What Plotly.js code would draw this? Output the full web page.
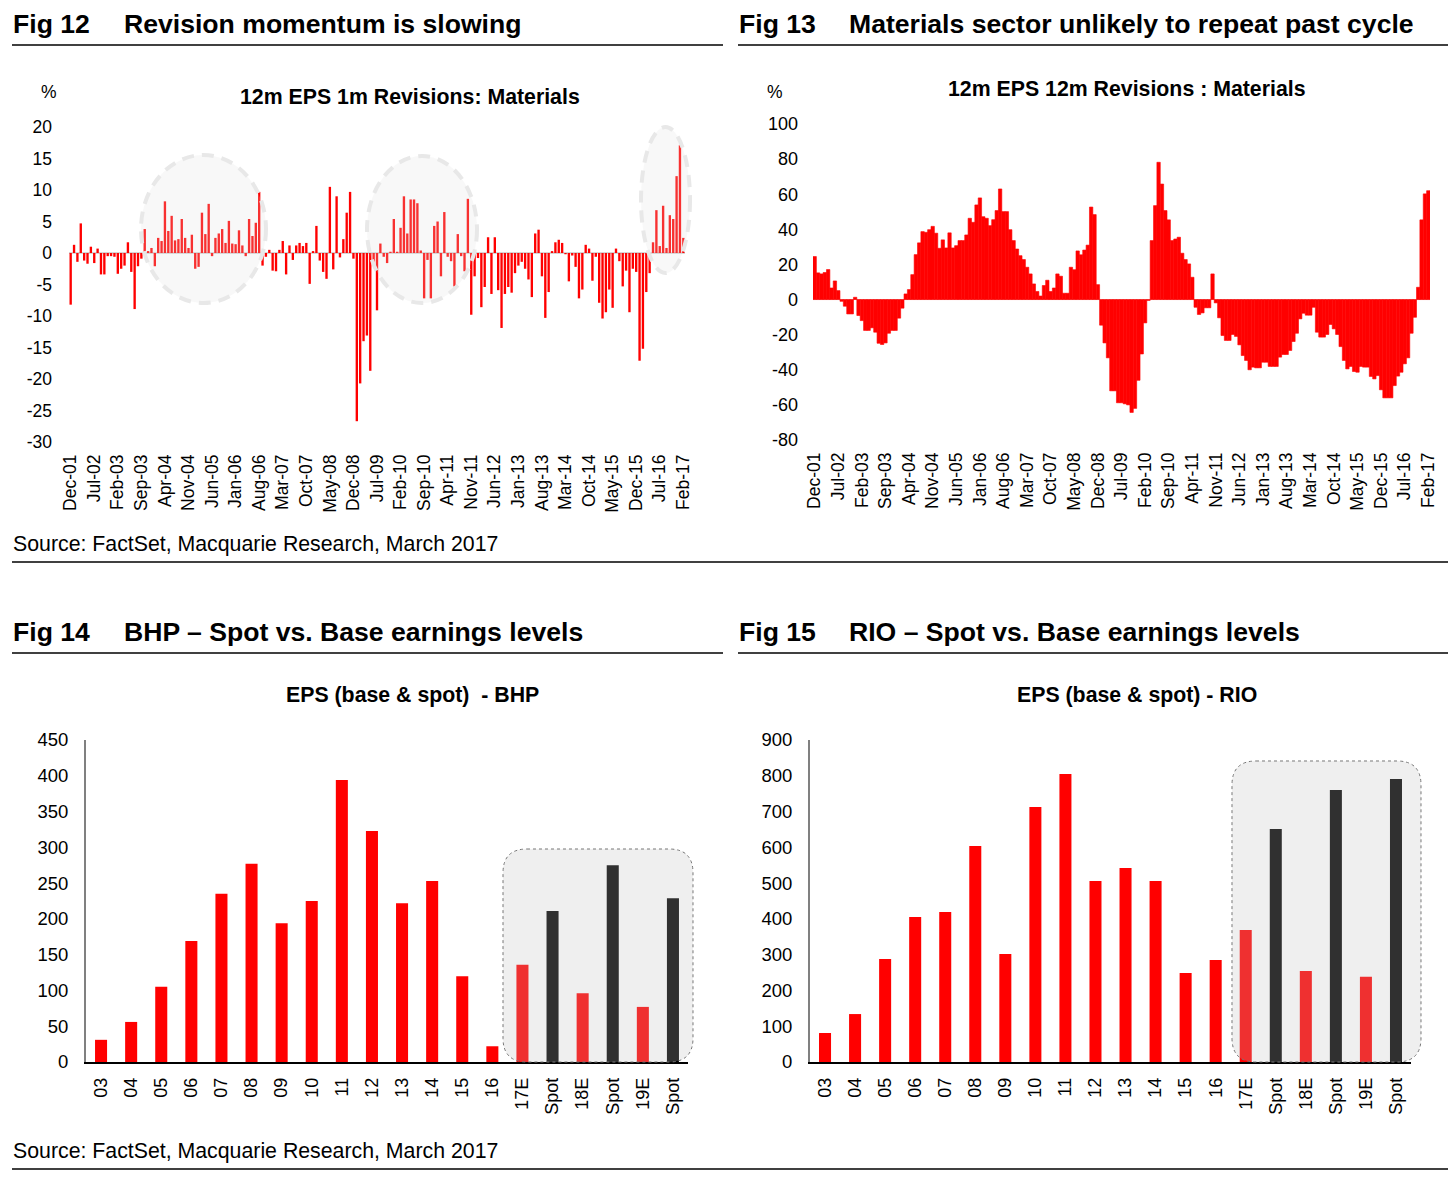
<!DOCTYPE html>
<html>
<head>
<meta charset="utf-8">
<script src="https://cdn.plot.ly/plotly-3.0.1.min.js"></script>
<style>html,body{margin:0;padding:0;background:#fff;}#chart{width:1456px;height:1192px;}</style>
</head>
<body>
<div id="chart"></div>
<script>
// ---------- DATA ----------
const monthNames = ["Jan","Feb","Mar","Apr","May","Jun","Jul","Aug","Sep","Oct","Nov","Dec"];
const startYear = 2001, startMonth = 11, nMonths = 183; // Dec-01 .. Feb-17
const tickEvery = 7;

// Fig 12: 12m EPS 1m revisions, Materials (%)
const rev1m = [
 -8.2, 1.3, -1.4, 4.7, -1.2, -1.7, 1.0, -1.6, 0.7, -3.4,
 -3.4, -0.5, -0.5, -0.6, -3.3, -2.5, -2.0, 1.7, -3.0, -8.9,
 -2.1, -0.9, 3.8, 0.3, 0.8, -2.1, 2.4, 1.9, 8.2, 3.5,
 5.9, 2.0, 2.2, 5.4, 2.4, 0.8, 2.9, -2.5, -2.2, 6.4,
 3.0, 7.8, -0.5, 2.4, 3.1, 3.8, 1.6, 5.1, 1.5, 1.4,
 3.6, 1.2, -0.5, 5.4, 2.7, 4.8, 9.7, -2.0, -0.6, 0.5,
 -2.8, -2.9, 0.5, 1.9, -3.4, 1.2, -1.1, 1.2, 1.6, 1.1,
 1.6, -4.9, 0.3, 4.3, -1.2, -3.0, -4.1, 10.5, -2.6, 9.0,
 -0.7, 2.2, 6.4, 9.7, -0.9, -26.7, -20.7, -14.0, -13.1, -18.7,
 -1.4, -9.1, 1.5, -0.6, -1.6, 0.2, 5.4, 0.2, 4.0, 9.0,
 3.1, 8.5, 8.5, 7.9, 0.4, -7.2, -1.1, -7.2, 4.3, 5.0,
 -3.7, 6.5, -0.6, -1.3, -5.3, 3.0, -0.5, -2.9, 8.6, -9.8,
 -3.7, -0.8, -8.6, -5.4, 2.5, -6.5, 2.5, -5.9, -11.9, -6.5,
 -5.4, -6.3, -3.2, -2.0, -1.4, -2.5, -4.2, -7.0, 3.1, 3.7,
 -3.7, -10.3, -6.2, 0.3, 1.7, 2.1, 1.6, -0.2, -4.5, -0.4,
 -2.2, -7.2, -5.8, 1.3, 0.7, -4.4, -0.6, -7.9, -10.4, -9.4,
 -5.8, -8.7, 0.7, -1.3, -5.3, -2.8, -9.4, -2.5, -3.0, -17.1,
 -15.2, -6.2, -3.2, 1.7, 6.8, 1.1, 7.5, 0.8, 6.0, 5.4,
 12.2, 17.1, 2.4
];

// Fig 13: 12m EPS 12m revisions, Materials (%)
const rev12m = [
 24.5, 15.2, 14.6, 15.4, 17.1, 6.6, 10.6, 5.1, -1.0, -3.8,
 -8.2, -8.2, 1.3, -9.1, -12.0, -17.6, -17.6, -16.1, -18.6, -24.9,
 -25.6, -24.7, -19.2, -17.6, -17.6, -10.6, -4.9, 3.2, 5.7, 14.2,
 25.6, 32.3, 38.7, 38.3, 39.8, 41.7, 37.8, 29.2, 34.0, 29.4,
 38.0, 29.4, 30.7, 33.6, 33.6, 36.8, 46.3, 44.0, 53.9, 57.9,
 47.2, 46.3, 42.1, 45.5, 50.7, 63.0, 50.1, 50.1, 39.8, 33.6,
 28.8, 25.0, 22.8, 18.4, 14.6, 8.9, 4.6, 2.0, 8.0, 11.0,
 4.6, 6.6, 14.6, 13.3, 3.6, 3.6, 18.4, 17.0, 27.7, 25.5,
 28.2, 31.0, 52.7, 48.4, 8.5, -14.6, -24.7, -33.2, -52.0, -52.0,
 -58.8, -58.8, -59.4, -60.0, -64.3, -62.0, -46.0, -31.0, -13.3, -0.5,
 33.6, 53.5, 78.2, 65.8, 50.7, 45.4, 33.6, 34.5, 35.5, 26.4,
 22.8, 20.3, 12.7, -4.4, -8.5, -7.6, -4.7, -4.7, 14.6, -1.9,
 -10.4, -20.5, -23.3, -23.3, -19.9, -21.0, -25.8, -31.9, -34.7, -40.0,
 -38.5, -38.9, -38.9, -35.7, -35.7, -38.1, -38.1, -38.1, -32.8, -31.3,
 -31.3, -29.0, -23.9, -19.2, -11.0, -7.8, -8.9, -8.9, -4.4, -18.6,
 -21.4, -21.4, -19.9, -14.2, -16.7, -19.9, -26.8, -34.7, -39.5, -38.1,
 -41.0, -41.4, -38.1, -38.5, -38.5, -43.8, -45.2, -43.3, -51.4, -56.0,
 -56.0, -56.0, -49.0, -43.6, -41.4, -36.6, -33.2, -19.2, -10.1, 7.0,
 45.4, 60.2, 62.0
];

// y-axis tick values
const fig12Ticks = [20, 15, 10, 5, 0, -5, -10, -15, -20, -25, -30];
const fig13Ticks = [100, 80, 60, 40, 20, 0, -20, -40, -60, -80];

// Fig 14 / 15: EPS base & spot
const epsLabels = ["03","04","05","06","07","08","09","10","11","12","13","14","15","16","17E","Spot","18E","Spot","19E","Spot"];
const bhpEps = [31, 56, 105, 169, 235, 277, 194, 225, 394, 323, 222, 253, 120, 22, 136, 211, 96, 275, 77, 229];
const rioEps = [81, 134, 288, 405, 419, 604, 302, 713, 805, 506, 542, 506, 249, 285, 369, 651, 254, 760, 238, 791];

// ---------- BUILD ----------
const W = 1456, H = 1192;
const px = x => x / W;
const py = y => 1 - y / H;
const FONT = '"Liberation Sans", Arial, sans-serif';

const months = [];
for (let i = 0; i < nMonths; i++) {
  const m = (startMonth + i) % 12;
  const y = startYear + Math.floor((startMonth + i) / 12);
  months.push(monthNames[m] + "-" + String(y % 100).padStart(2, "0"));
}
const monthTicks = months.filter((_, i) => i % tickEvery === 0);
const idx = epsLabels.map((_, i) => i);
const epsColors = epsLabels.map(l => l === "Spot" ? "#000000" : "#ff0000");

const traces = [
  {type: "bar", x: months, y: rev1m, xaxis: "x", yaxis: "y", width: 0.7, marker: {color: "#ff0000"}, hoverinfo: "x+y"},
  {type: "bar", x: months, y: rev12m, xaxis: "x2", yaxis: "y2", width: 1.0,
   marker: {color: "#ff0000", line: {color: "#ff0000", width: 0.6}}, hoverinfo: "x+y"},
  {type: "bar", x: idx, y: bhpEps, xaxis: "x3", yaxis: "y3", width: 0.4, marker: {color: epsColors}, hoverinfo: "y"},
  {type: "bar", x: idx, y: rioEps, xaxis: "x4", yaxis: "y4", width: 0.4, marker: {color: epsColors}, hoverinfo: "y"}
];

function dom(a, b, isY) { return isY ? [py(b), py(a)] : [px(a), px(b)]; }

const baseX = {showgrid: false, zeroline: false, ticks: "", tickangle: -90, fixedrange: true,
  tickfont: {family: FONT, size: 17.5, color: "#000"}};
const baseY = {showgrid: false, ticks: "", fixedrange: true, tickfont: {family: FONT, size: 17.5, color: "#000"}};

const layout = {
  width: W, height: H, margin: {l: 0, r: 0, t: 0, b: 0},
  paper_bgcolor: "#fff", plot_bgcolor: "rgba(0,0,0,0)", showlegend: false,
  font: {family: FONT, color: "#000"},
  xaxis: Object.assign({}, baseX, {domain: dom(69, 685), anchor: "y", type: "category",
    range: [-0.5, nMonths - 0.5], tickvals: monthTicks, ticktext: monthTicks, showline: false, ticklabelstandoff: 8}),
  yaxis: Object.assign({}, baseY, {domain: dom(127, 442, true), anchor: "x", range: [-30, 20],
    tickvals: fig12Ticks, ticktext: fig12Ticks.map(String),
    zeroline: true, zerolinecolor: "#d6d6d6", zerolinewidth: 1.5, showline: false, ticklabelstandoff: 16}),
  xaxis2: Object.assign({}, baseX, {domain: dom(813, 1430), anchor: "y2", type: "category",
    range: [-0.5, nMonths - 0.5], tickvals: monthTicks, ticktext: monthTicks, showline: false, ticklabelstandoff: 8}),
  yaxis2: Object.assign({}, baseY, {domain: dom(124, 440, true), anchor: "x2", range: [-80, 100],
    tickvals: fig13Ticks, ticktext: fig13Ticks.map(String),
    zeroline: true, zerolinecolor: "#d6d6d6", zerolinewidth: 1.5, showline: false, ticklabelstandoff: 14,
    tickfont: {family: FONT, size: 18, color: "#000"}}),
  xaxis3: Object.assign({}, baseX, {domain: dom(86, 688), anchor: "y3", range: [-0.5, 19.5],
    tickvals: idx, ticktext: epsLabels, showline: true, linecolor: "#000", linewidth: 1.5, ticklabelstandoff: 7,
    tickfont: {family: FONT, size: 18, color: "#000"}}),
  yaxis3: Object.assign({}, baseY, {domain: dom(740, 1062, true), anchor: "x3", range: [0, 450], dtick: 50,
    zeroline: false, showline: true, linecolor: "#808080", linewidth: 2, ticklabelstandoff: 12,
    tickfont: {family: FONT, size: 18.5, color: "#000"}}),
  xaxis4: Object.assign({}, baseX, {domain: dom(810, 1411), anchor: "y4", range: [-0.5, 19.5],
    tickvals: idx, ticktext: epsLabels, showline: true, linecolor: "#000", linewidth: 1.5, ticklabelstandoff: 7,
    tickfont: {family: FONT, size: 18, color: "#000"}}),
  yaxis4: Object.assign({}, baseY, {domain: dom(740, 1062, true), anchor: "x4", range: [0, 900], dtick: 100,
    zeroline: false, showline: true, linecolor: "#808080", linewidth: 2, ticklabelstandoff: 12,
    tickfont: {family: FONT, size: 18.5, color: "#000"}}),
  annotations: [],
  shapes: []
};

function text(t, x, y, size, bold, anchor) {
  layout.annotations.push({text: bold ? "<b>" + t + "</b>" : t, x: px(x), y: py(y), xref: "paper", yref: "paper",
    xanchor: anchor || "left", yanchor: "middle", showarrow: false, borderpad: 0,
    font: {family: FONT, size: size, color: "#000"}});
}
function rule(x0, x1, y) {
  layout.shapes.push({type: "line", xref: "paper", yref: "paper", x0: px(x0), x1: px(x1), y0: py(y), y1: py(y),
    line: {color: "#000", width: 1.6}});
}
function ellipse(x0, x1, y0, y1) {
  layout.shapes.push({type: "circle", xref: "paper", yref: "paper", x0: px(x0), x1: px(x1), y0: py(y1), y1: py(y0),
    fillcolor: "rgba(225,225,225,0.22)", line: {color: "rgba(232,232,232,1)", width: 4, dash: "12px,8px"}, layer: "above"});
}
function roundBox(x0, y0, x1, y1, r) {
  const P = (x, y) => px(x).toFixed(5) + "," + py(y).toFixed(5);
  const path = "M" + P(x0 + r, y0) + " L" + P(x1 - r, y0) + " Q" + P(x1, y0) + " " + P(x1, y0 + r) +
    " L" + P(x1, y1 - r) + " Q" + P(x1, y1) + " " + P(x1 - r, y1) +
    " L" + P(x0 + r, y1) + " Q" + P(x0, y1) + " " + P(x0, y1 - r) +
    " L" + P(x0, y0 + r) + " Q" + P(x0, y0) + " " + P(x0 + r, y0) + " Z";
  layout.shapes.push({type: "path", xref: "paper", yref: "paper", path: path,
    fillcolor: "rgba(190,190,190,0.25)", line: {color: "#777", width: 1, dash: "dot"}, layer: "above"});
}

// headers
const HS = 26.6;
text("Fig 12", 12, 24, HS, true);
text("Revision momentum is slowing", 123, 24, HS, true);
text("Fig 13", 738, 24, HS, true);
text("Materials sector unlikely to repeat past cycle", 848, 24, HS, true);
text("Fig 14", 12, 632, HS, true);
text("BHP – Spot vs. Base earnings levels", 123, 632, HS, true);
text("Fig 15", 738, 632, HS, true);
text("RIO – Spot vs. Base earnings levels", 848, 632, HS, true);
rule(12, 723, 45); rule(738, 1448, 45);
rule(12, 1448, 562);
rule(12, 723, 653); rule(738, 1448, 653);
rule(12, 1448, 1169);
text("Source: FactSet, Macquarie Research, March 2017", 12, 544, 21.3, false);
text("Source: FactSet, Macquarie Research, March 2017", 12, 1151, 21.3, false);

// chart titles
text("12m EPS 1m Revisions: Materials", 410, 97, 21.3, true, "center");
text("12m EPS 12m Revisions : Materials", 1126, 89, 21.3, true, "center");
text("EPS (base &amp; spot)  - BHP", 412, 695, 21.3, true, "center");
text("EPS (base &amp; spot) - RIO", 1137, 695, 21.3, true, "center");
text("%", 49, 92, 17.5, false, "center");
text("%", 775, 92, 17.5, false, "center");

// highlight overlays
ellipse(141, 266, 155, 303);
ellipse(367, 477, 156, 303);
ellipse(641, 690, 127, 273);
roundBox(503, 849, 693, 1062, 24);
roundBox(1232, 761, 1421, 1062, 24);

Plotly.newPlot("chart", traces, layout, {displayModeBar: false, staticPlot: true});
</script>
</body>
</html>
